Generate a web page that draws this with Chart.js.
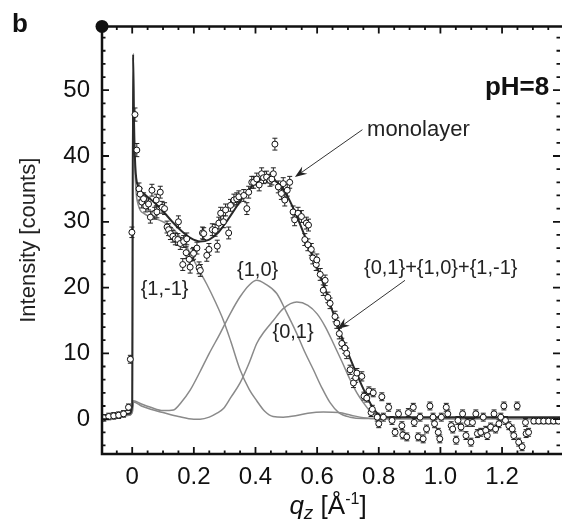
<!DOCTYPE html>
<html>
<head>
<meta charset="utf-8">
<script src="https://cdn.jsdelivr.net/npm/chart.js@4.4.1/dist/chart.umd.min.js"></script>
<style>
  body { margin: 0; background: #fff; }
  canvas { display: block; }
</style>
</head>
<body>
<canvas id="myChart" width="565" height="522"></canvas>
<script>
// axis ticks (labels)
const xTickValues = [0, 0.2, 0.4, 0.6, 0.8, 1.0, 1.2];
const yTickValues = [0, 10, 20, 30, 40, 50];

// measured points: [qz, intensity, error]
const observed = [
  [-0.092, 0.2, 0.5], [-0.076, 0.4, 0.5], [-0.06, 0.5, 0.5], [-0.044, 0.6, 0.5], [-0.028, 0.8, 0.5],
  [-0.012, 1.8, 0.5], [-0.006, 9.1, 0.6], [-0.001, 28.4, 0.8], [0.009, 46.3, 1.0], [0.015, 40.9, 1.0],
  [0.022, 35.0, 0.9], [0.026, 34.2, 0.9], [0.031, 33.0, 0.9], [0.037, 33.5, 0.9], [0.044, 32.4, 0.9],
  [0.053, 32.7, 0.9], [0.059, 30.7, 0.9], [0.064, 34.8, 0.9], [0.073, 31.3, 0.9], [0.078, 33.3, 0.9],
  [0.08, 31.5, 0.9], [0.091, 34.5, 0.9], [0.097, 32.2, 0.9], [0.105, 32.0, 0.9], [0.113, 29.2, 0.9],
  [0.118, 28.8, 0.9], [0.124, 28.2, 0.9], [0.132, 27.8, 0.9], [0.14, 27.4, 0.9], [0.148, 27.3, 0.9],
  [0.15, 30.0, 0.9], [0.156, 26.7, 0.9], [0.164, 23.5, 0.9], [0.167, 27.0, 0.9], [0.175, 25.3, 0.9],
  [0.177, 27.4, 0.9], [0.185, 24.3, 0.9], [0.188, 23.1, 0.9], [0.196, 25.0, 0.9], [0.199, 25.2, 0.9],
  [0.21, 26.0, 0.9], [0.217, 23.0, 0.9], [0.221, 22.6, 0.9], [0.228, 28.3, 0.9], [0.232, 28.2, 0.9],
  [0.242, 24.9, 0.9], [0.249, 25.8, 0.9], [0.26, 28.8, 0.9], [0.269, 28.7, 0.9], [0.276, 26.3, 0.9],
  [0.281, 29.8, 0.9], [0.287, 31.3, 0.9], [0.296, 30.0, 0.9], [0.303, 31.8, 0.9], [0.313, 28.3, 0.9],
  [0.319, 32.5, 0.9], [0.33, 33.3, 0.9], [0.339, 33.5, 0.9], [0.346, 33.8, 0.9], [0.362, 34.0, 0.9],
  [0.372, 32.0, 0.9], [0.378, 34.5, 0.9], [0.388, 36.0, 0.9], [0.394, 36.0, 0.9], [0.404, 36.5, 0.9],
  [0.412, 35.6, 0.9], [0.42, 37.3, 0.9], [0.426, 36.7, 0.9], [0.436, 36.8, 0.9], [0.447, 36.3, 0.9],
  [0.453, 36.5, 0.9], [0.458, 37.3, 0.9], [0.463, 41.8, 0.9], [0.474, 35.3, 0.9], [0.484, 34.3, 0.9],
  [0.49, 35.8, 0.9], [0.495, 33.3, 0.9], [0.503, 34.8, 0.9], [0.511, 36.0, 0.9], [0.522, 31.5, 0.9],
  [0.527, 30.3, 0.9], [0.538, 31.3, 0.9], [0.549, 30.8, 0.9], [0.56, 27.3, 0.9], [0.565, 29.8, 0.9],
  [0.57, 26.5, 0.9], [0.572, 29.5, 0.9], [0.581, 25.8, 0.9], [0.586, 24.5, 0.9], [0.597, 23.5, 0.9],
  [0.599, 24.2, 0.9], [0.61, 22.0, 0.9], [0.62, 19.6, 0.8], [0.626, 21.1, 0.8], [0.635, 18.5, 0.8],
  [0.642, 17.6, 0.8], [0.658, 15.6, 0.8], [0.664, 14.6, 0.8], [0.672, 13.0, 0.8], [0.68, 11.5, 0.8],
  [0.69, 10.8, 0.8], [0.696, 10.0, 0.8], [0.707, 7.5, 0.7], [0.718, 5.5, 0.7], [0.725, 6.3, 0.7],
  [0.729, 7.0, 0.7], [0.745, 6.5, 0.7], [0.752, 3.5, 0.6], [0.761, 3.2, 0.6], [0.768, 4.3, 0.6],
  [0.775, 1.0, 0.6], [0.779, 1.5, 0.6], [0.782, 4.0, 0.6], [0.795, 0.3, 0.6], [0.80, -0.7, 0.6],
  [0.81, 3.4, 0.6], [0.815, 0.3, 0.6], [0.832, 1.8, 0.6], [0.843, -0.2, 0.6], [0.853, -2.0, 0.6],
  [0.864, 0.8, 0.6], [0.875, -1.0, 0.6], [0.878, -2.4, 0.6], [0.891, -2.7, 0.6], [0.896, 1.0, 0.6],
  [0.912, 1.8, 0.6], [0.915, -0.5, 0.6], [0.928, -2.7, 0.6], [0.934, 0.3, 0.6], [0.944, -3.0, 0.6],
  [0.955, -1.5, 0.6], [0.966, 2.0, 0.6], [0.976, 0.3, 0.6], [0.981, -0.7, 0.6], [0.993, -2.0, 0.6],
  [0.998, -3.0, 0.6], [1.003, 0.3, 0.6], [1.019, 1.8, 0.6], [1.024, 0.8, 0.6], [1.035, -1.0, 0.6],
  [1.04, -1.5, 0.6], [1.051, -3.2, 0.6], [1.057, -0.2, 0.6], [1.067, -1.2, 0.6], [1.072, 0.8, 0.6],
  [1.083, -2.5, 0.6], [1.088, -0.5, 0.6], [1.099, -3.5, 0.6], [1.104, -0.5, 0.6], [1.115, 0.8, 0.6],
  [1.12, -2.2, 0.6], [1.131, -2.0, 0.6], [1.139, 0.3, 0.6], [1.147, -1.7, 0.6], [1.152, -2.5, 0.6],
  [1.163, -1.2, 0.6], [1.174, 0.8, 0.6], [1.179, -1.5, 0.6], [1.19, -0.7, 0.6], [1.196, 0.3, 0.6],
  [1.206, 2.0, 0.6], [1.211, -0.2, 0.6], [1.222, -1.0, 0.6], [1.233, -1.5, 0.6], [1.238, -2.5, 0.6],
  [1.249, 2.0, 0.6], [1.254, -3.5, 0.6], [1.265, -4.2, 0.6], [1.276, -0.5, 0.6], [1.278, -2.2, 0.6],
  [1.286, -2.0, 0.6], [1.303, -0.3, 0.4], [1.319, -0.3, 0.4], [1.335, -0.3, 0.4], [1.351, -0.3, 0.4],
  [1.367, -0.3, 0.4], [1.383, -0.3, 0.4]
];

// fitted curves: [qz, intensity]
const fitTotal = [
  [-0.1, 0.3], [-0.05, 0.4], [-0.01, 0.8], [0, 2], [0.003, 55.5], [0.006, 45], [0.01, 38.5],
  [0.02, 35.3], [0.04, 34.2], [0.07, 33], [0.1, 31.6], [0.13, 30], [0.16, 28.6], [0.19, 27.5],
  [0.22, 27], [0.25, 27.3], [0.28, 28.4], [0.31, 30.3], [0.34, 32.4], [0.37, 34.4], [0.4, 35.9],
  [0.435, 36.7], [0.47, 36], [0.5, 34.2], [0.53, 31.3], [0.56, 27.8], [0.59, 24.2], [0.62, 20.6],
  [0.65, 16.4], [0.687, 11.6], [0.72, 7.8], [0.75, 4.6], [0.775, 2.2], [0.8, 0.7], [0.83, 0.3], [1.39, 0.3]
];
const fit1m1 = [
  [-0.1, 0.3], [-0.01, 0.6], [0, 1.5], [0.002, 55], [0.006, 42], [0.012, 35], [0.02, 32.5],
  [0.04, 31.2], [0.07, 30.6], [0.1, 30], [0.124, 29.3], [0.15, 28], [0.17, 26.8], [0.19, 25],
  [0.215, 22.8], [0.242, 20.5], [0.27, 17.8], [0.296, 15], [0.32, 11.8], [0.35, 7.5], [0.38, 4.5],
  [0.404, 2.8], [0.43, 1.2], [0.457, 0.4], [0.49, 0.3], [0.53, 0.5], [0.57, 0.9], [0.62, 1.1],
  [0.67, 1.0], [0.71, 0.6], [0.75, 0.2], [0.8, 0.05], [1.39, 0.05]
];
const fit10 = [
  [-0.1, 0.3], [-0.01, 0.6], [0, 1], [0.004, 2.8], [0.03, 2.3], [0.06, 1.8], [0.1, 1.3], [0.134, 1.4],
  [0.16, 2.6], [0.188, 4.4], [0.22, 7.2], [0.25, 10], [0.285, 13], [0.32, 16.2], [0.35, 18.6],
  [0.38, 20.4], [0.404, 21.1], [0.43, 20.6], [0.469, 19.1], [0.5, 16.3], [0.534, 13], [0.56, 10.2],
  [0.588, 7.5], [0.615, 4.8], [0.642, 2.5], [0.67, 1.0], [0.707, 0.3], [0.75, 0.1], [1.39, 0.1]
];
const fit01 = [
  [-0.1, 0.3], [-0.01, 0.6], [0, 1], [0.004, 2.6], [0.03, 2.0], [0.06, 1.5], [0.1, 1.0], [0.15, 0.4],
  [0.2, 0.0], [0.22, 0.0], [0.25, 0.3], [0.275, 0.9], [0.296, 1.6], [0.32, 3.3], [0.35, 5.5],
  [0.38, 8.6], [0.404, 11.5], [0.43, 13.4], [0.458, 15], [0.49, 16.8], [0.534, 17.8], [0.57, 17.3],
  [0.6, 16], [0.627, 14], [0.653, 11.5], [0.68, 8.8], [0.707, 6], [0.73, 3.9], [0.75, 2.5],
  [0.77, 1.3], [0.793, 0.4], [0.82, 0.1], [1.39, 0.1]
];

const FONT = '"Liberation Sans", Arial, Helvetica, sans-serif';
const toXY = arr => arr.map(p => ({ x: p[0], y: p[1] }));

function arrow(ctx, x0, y0, x1, y1) {
  const a = Math.atan2(y1 - y0, x1 - x0);
  ctx.beginPath();
  ctx.moveTo(x0, y0);
  ctx.lineTo(x1 - 8 * Math.cos(a), y1 - 8 * Math.sin(a));
  ctx.stroke();
  ctx.beginPath();
  ctx.moveTo(x1, y1);
  ctx.lineTo(x1 - 12 * Math.cos(a) + 4.5 * Math.sin(a), y1 - 12 * Math.sin(a) - 4.5 * Math.cos(a));
  ctx.lineTo(x1 - 8 * Math.cos(a), y1 - 8 * Math.sin(a));
  ctx.lineTo(x1 - 12 * Math.cos(a) - 4.5 * Math.sin(a), y1 - 12 * Math.sin(a) + 4.5 * Math.cos(a));
  ctx.closePath();
  ctx.fill();
}

// error bars, frame with inward ticks, labels
const decor = {
  id: 'decor',
  beforeDatasetDraw(chart, args) {
    if (args.index !== 0) return;
    const { ctx, chartArea: a, scales: { x, y } } = chart;
    ctx.save();
    ctx.beginPath();
    ctx.rect(a.left, a.top, a.right - a.left, a.bottom - a.top);
    ctx.clip();
    ctx.strokeStyle = '#222';
    ctx.lineWidth = 1;
    observed.forEach(p => {
      const px = x.getPixelForValue(p[0]);
      const y0 = y.getPixelForValue(p[1] - p[2]);
      const y1 = y.getPixelForValue(p[1] + p[2]);
      ctx.beginPath();
      ctx.moveTo(px, y0); ctx.lineTo(px, y1);
      ctx.moveTo(px - 2.5, y0); ctx.lineTo(px + 2.5, y0);
      ctx.moveTo(px - 2.5, y1); ctx.lineTo(px + 2.5, y1);
      ctx.stroke();
    });
    ctx.restore();
  },
  afterDraw(chart) {
    const { ctx, chartArea: a, scales: { x, y } } = chart;
    ctx.save();
    ctx.strokeStyle = '#111';
    ctx.fillStyle = '#111';

    // frame (right edge runs off the picture)
    ctx.lineWidth = 2.5;
    ctx.beginPath();
    ctx.moveTo(a.right + 2, a.top);
    ctx.lineTo(a.left, a.top);
    ctx.lineTo(a.left, a.bottom);
    ctx.lineTo(a.right + 2, a.bottom);
    ctx.stroke();

    // inward ticks
    ctx.lineWidth = 1.8;
    for (let v = -0.05; v <= x.max; v += 0.05) {
      const major = Math.abs(v / 0.2 - Math.round(v / 0.2)) < 1e-6;
      const len = major ? 7 : 3.5;
      const px = x.getPixelForValue(v);
      ctx.beginPath();
      ctx.moveTo(px, a.bottom); ctx.lineTo(px, a.bottom - len);
      ctx.moveTo(px, a.top); ctx.lineTo(px, a.top + len);
      ctx.stroke();
    }
    for (let v = -4; v <= y.max; v += 2) {
      const major = v % 10 === 0;
      const len = major ? 7 : 3.5;
      const py = y.getPixelForValue(v);
      ctx.beginPath();
      ctx.moveTo(a.left, py); ctx.lineTo(a.left + len, py);
      ctx.moveTo(a.right, py); ctx.lineTo(a.right - len, py);
      ctx.stroke();
    }

    // corner dot
    ctx.beginPath();
    ctx.arc(a.left, a.top, 6.5, 0, Math.PI * 2);
    ctx.fill();

    // panel letter and pH
    ctx.textBaseline = 'alphabetic';
    ctx.textAlign = 'left';
    ctx.font = 'bold 26px ' + FONT;
    ctx.fillText('b', 12, 32);
    ctx.textAlign = 'right';
    ctx.fillText('pH=8', x.getPixelForValue(1.353), y.getPixelForValue(49.2));

    // annotations
    ctx.fillStyle = '#222';
    ctx.textAlign = 'left';
    ctx.font = '22px ' + FONT;
    ctx.fillText('monolayer', x.getPixelForValue(0.762), y.getPixelForValue(43.0));
    ctx.font = '20px ' + FONT;
    ctx.fillText('{0,1}+{1,0}+{1,-1}', x.getPixelForValue(0.752), y.getPixelForValue(22.0));
    ctx.textAlign = 'center';
    ctx.fillText('{1,-1}', x.getPixelForValue(0.105), y.getPixelForValue(18.8));
    ctx.fillText('{1,0}', x.getPixelForValue(0.407), y.getPixelForValue(21.8));
    ctx.fillText('{0,1}', x.getPixelForValue(0.522), y.getPixelForValue(12.4));

    ctx.strokeStyle = '#333';
    ctx.fillStyle = '#222';
    ctx.lineWidth = 1;
    arrow(ctx, x.getPixelForValue(0.747), y.getPixelForValue(44.0), x.getPixelForValue(0.528), y.getPixelForValue(36.8));
    arrow(ctx, x.getPixelForValue(0.885), y.getPixelForValue(21.1), x.getPixelForValue(0.666), y.getPixelForValue(13.7));

    // x axis title: q_z [Å^-1]
    ctx.fillStyle = '#111';
    ctx.textAlign = 'left';
    const parts = [
      { t: 'q', f: 'italic 26px ' + FONT, dy: 0 },
      { t: 'z', f: 'italic 19px ' + FONT, dy: 5 },
      { t: ' [Å', f: '26px ' + FONT, dy: 0 },
      { t: '-1', f: '16px ' + FONT, dy: -10 },
      { t: ']', f: '26px ' + FONT, dy: 0 }
    ];
    let w = 0;
    parts.forEach(p => { ctx.font = p.f; w += ctx.measureText(p.t).width; });
    let cx = 328 - w / 2;
    parts.forEach(p => {
      ctx.font = p.f;
      ctx.fillText(p.t, cx, 514 + p.dy);
      cx += ctx.measureText(p.t).width;
    });
    ctx.restore();
  }
};

const ctx = document.getElementById('myChart').getContext('2d');
const chart = new Chart(ctx, {
  type: 'scatter',
  data: {
    datasets: [
      {
        label: 'data',
        data: toXY(observed),
        showLine: false,
        pointRadius: 3,
        pointBackgroundColor: '#fff',
        pointBorderColor: '#111',
        pointBorderWidth: 1,
        order: 0
      },
      {
        label: '{0,1}+{1,0}+{1,-1}',
        data: toXY(fitTotal),
        showLine: true,
        borderColor: '#2a2a2a',
        borderWidth: 2,
        pointRadius: 0,
        cubicInterpolationMode: 'monotone',
        order: 1
      },
      {
        label: '{1,-1}',
        data: toXY(fit1m1),
        showLine: true,
        borderColor: '#8a8a8a',
        borderWidth: 1.5,
        pointRadius: 0,
        cubicInterpolationMode: 'monotone',
        order: 2
      },
      {
        label: '{1,0}',
        data: toXY(fit10),
        showLine: true,
        borderColor: '#8a8a8a',
        borderWidth: 1.5,
        pointRadius: 0,
        cubicInterpolationMode: 'monotone',
        order: 3
      },
      {
        label: '{0,1}',
        data: toXY(fit01),
        showLine: true,
        borderColor: '#8a8a8a',
        borderWidth: 1.5,
        pointRadius: 0,
        cubicInterpolationMode: 'monotone',
        order: 4
      }
    ]
  },
  options: {
    responsive: false,
    animation: false,
    devicePixelRatio: 1,
    layout: { padding: { top: 20, right: 0, left: 0, bottom: 0 } },
    plugins: { legend: { display: false }, tooltip: { enabled: false } },
    scales: {
      x: {
        type: 'linear',
        min: -0.098,
        max: 1.388,
        afterBuildTicks: axis => { axis.ticks = xTickValues.map(v => ({ value: v })); },
        afterFit: axis => { axis.height = 68; },
        grid: { display: false, drawTicks: false },
        border: { display: false },
        ticks: {
          color: '#111',
          font: { family: FONT, size: 24 },
          padding: 9,
          maxRotation: 0,
          autoSkip: false,
          callback: v => (v === 0 ? '0' : v.toFixed(1))
        }
      },
      y: {
        type: 'linear',
        min: -5.3,
        max: 59.7,
        afterBuildTicks: axis => { axis.ticks = yTickValues.map(v => ({ value: v })); },
        afterFit: axis => { axis.width = 102; },
        grid: { display: false, drawTicks: false },
        border: { display: false },
        ticks: {
          color: '#111',
          font: { family: FONT, size: 24 },
          padding: 12
        },
        title: {
          display: true,
          text: 'Intensity [counts]',
          color: '#222',
          font: { family: FONT, size: 22 },
          padding: { top: 16, bottom: 0 }
        }
      }
    }
  },
  plugins: [decor]
});
</script>
</body>
</html>
